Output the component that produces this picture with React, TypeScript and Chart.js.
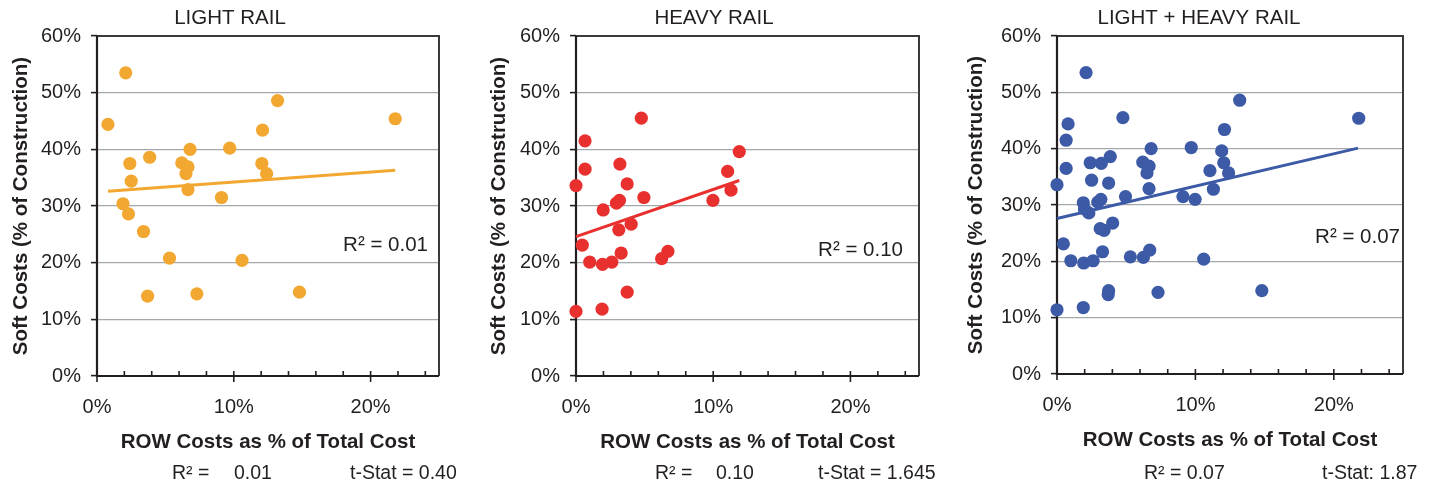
import React, { useEffect, useRef } from 'react';
import { Chart, registerables } from 'chart.js';

Chart.register(...registerables);

// ---------- data ----------
const panelTitles = ['LIGHT RAIL', 'HEAVY RAIL', 'LIGHT + HEAVY RAIL'];

const lightX = [2.1, 0.8, 13.2, 21.8, 12.1, 6.8, 9.7, 3.85, 2.4, 6.2, 6.65, 6.5, 2.5, 12.05, 12.4, 6.65, 9.1, 1.9, 2.3, 3.4, 5.3, 10.6, 3.7, 7.3, 14.8];
const lightY = [53.5, 44.4, 48.6, 45.4, 43.4, 40.0, 40.2, 38.6, 37.5, 37.6, 36.9, 35.7, 34.4, 37.5, 35.7, 32.9, 31.5, 30.4, 28.6, 25.5, 20.8, 20.4, 14.1, 14.5, 14.8];

const heavyX = [4.76, 0.66, 11.9, 0.66, 3.2, 11.05, 0.0, 3.73, 11.3, 2.95, 3.17, 4.95, 9.98, 1.98, 4.02, 3.12, 0.46, 1.0, 1.93, 2.61, 3.29, 6.24, 6.7, 3.73, 0.0, 1.9];
const heavyY = [45.5, 41.5, 39.6, 36.5, 37.4, 36.1, 33.6, 33.9, 32.8, 30.5, 31.0, 31.5, 31.0, 29.3, 26.8, 25.8, 23.1, 20.1, 19.7, 20.1, 21.7, 20.7, 22.0, 14.8, 11.4, 11.8];

// combined panel = light rail projects + heavy rail projects
const combinedX = [...lightX, ...heavyX];
const combinedY = [...lightY, ...heavyY];

// fitted trend lines (end points)
const lightTrendX = [0.8, 21.8];
const lightTrendY = [32.6, 36.3];
const heavyTrendX = [0, 11.9];
const heavyTrendY = [24.6, 34.5];
const combinedTrendX = [0, 21.75];
const combinedTrendY = [27.6, 40.1];

const r2Labels = ['R² = 0.01', 'R² = 0.10', 'R² = 0.07'];
const statTexts = [
  ['R² =', '0.01', 't-Stat = 0.40'],
  ['R² =', '0.10', 't-Stat = 1.645'],
  ['R² = 0.07', 't-Stat: 1.87'],
];

const xTickLabels = ['0%', '10%', '20%'];
const xTitle = 'ROW Costs as % of Total Cost';
const yTitle = 'Soft Costs (% of Construction)';

// ---------- styling / layout ----------
const FONT = "'Liberation Sans', Arial, Helvetica, sans-serif";
const TEXT = '#231f20';
const CANVAS_H = 486;

type Layout = {
  left: number;
  width: number;
  yAxisWidth: number;
  padRight: number;
  xAxisHeight: number;
  xTitlePadBottom: number;
  titleX: number;
  r2X: number;
  r2Y: number;
  statX: number[];
};

const layouts: Layout[] = [
  { left: 0, width: 460, yAxisWidth: 97, padRight: 21, xAxisHeight: 110, xTitlePadBottom: 31, titleX: 230, r2X: 428, r2Y: 245, statX: [172, 234, 350] },
  { left: 478, width: 461, yAxisWidth: 98, padRight: 20, xAxisHeight: 110, xTitlePadBottom: 31, titleX: 714, r2X: 903, r2Y: 250, statX: [655, 716, 818] },
  { left: 955, width: 474, yAxisWidth: 102, padRight: 26, xAxisHeight: 112, xTitlePadBottom: 33, titleX: 1199, r2X: 1400, r2Y: 237, statX: [1144, 1322] },
];

const colors = ['#F2A731', '#E8312F', '#3C5AA6'];

const seriesX = [lightX, heavyX, combinedX];
const seriesY = [lightY, heavyY, combinedY];
const trendXs = [lightTrendX, heavyTrendX, combinedTrendX];
const trendYs = [lightTrendY, heavyTrendY, combinedTrendY];

const toPoints = (xs: number[], ys: number[]) => xs.map((x, i) => ({ x, y: ys[i] }));

const decorPlugin = {
  id: 'decor',
  beforeDatasetsDraw(chart: any) {
    const { ctx, chartArea: a, scales } = chart;
    const xs = scales.x;
    ctx.save();
    // top & right frame
    ctx.strokeStyle = '#3a3a3a';
    ctx.lineWidth = 2;
    ctx.beginPath();
    ctx.moveTo(a.left, a.top);
    ctx.lineTo(a.right, a.top);
    ctx.lineTo(a.right, a.bottom);
    ctx.stroke();
    // axes
    ctx.strokeStyle = TEXT;
    ctx.lineWidth = 2.2;
    ctx.beginPath();
    ctx.moveTo(a.left, a.top);
    ctx.lineTo(a.left, a.bottom);
    ctx.lineTo(a.right, a.bottom);
    ctx.stroke();
    // x tick marks (minor inward, major crossing)
    ctx.lineWidth = 1.6;
    xs.ticks.forEach((t: any) => {
      if (t.value % 2 !== 0) return;
      const px = xs.getPixelForValue(t.value);
      const major = t.value % 10 === 0;
      ctx.beginPath();
      ctx.moveTo(px, a.bottom - 5);
      ctx.lineTo(px, major ? a.bottom + 6 : a.bottom);
      ctx.stroke();
    });
    ctx.restore();
  },
  afterDraw(chart: any, _args: any, opts: any) {
    const { ctx } = chart;
    const L = opts.layout as Layout;
    ctx.save();
    ctx.fillStyle = TEXT;
    // panel title
    ctx.font = `20.5px ${FONT}`;
    ctx.textAlign = 'center';
    ctx.textBaseline = 'middle';
    ctx.fillText(opts.title, L.titleX - L.left, 18);
    // R² annotation in plot
    ctx.textAlign = 'right';
    ctx.fillText(opts.r2, L.r2X - L.left, L.r2Y);
    // stats line below
    ctx.font = `19.5px ${FONT}`;
    ctx.textAlign = 'left';
    (opts.stats as string[]).forEach((s, i) => {
      ctx.fillText(s, L.statX[i] - L.left, 474);
    });
    ctx.restore();
  },
};

function makeConfig(i: number): any {
  const L = layouts[i];
  const color = colors[i];
  return {
    type: 'scatter',
    data: {
      datasets: [
        {
          data: toPoints(trendXs[i], trendYs[i]),
          showLine: true,
          borderColor: color,
          borderWidth: 3,
          pointRadius: 0,
          fill: false,
          clip: false,
          order: 2,
        },
        {
          data: toPoints(seriesX[i], seriesY[i]),
          backgroundColor: color,
          borderWidth: 0,
          pointRadius: 6.6,
          pointHoverRadius: 6.6,
          clip: false,
          order: 1,
        },
      ],
    },
    options: {
      responsive: false,
      animation: false,
      events: [],
      layout: { padding: { top: 36, left: 0, right: L.padRight, bottom: 0 } },
      plugins: {
        legend: { display: false },
        tooltip: { enabled: false },
        title: { display: false },
        decor: { layout: L, title: panelTitles[i], r2: r2Labels[i], stats: statTexts[i] },
      },
      scales: {
        x: {
          type: 'linear',
          min: 0,
          max: 25,
          border: { display: false },
          grid: { display: false, drawTicks: false },
          ticks: {
            stepSize: 2,
            autoSkip: false,
            includeBounds: false,
            maxRotation: 0,
            padding: 19,
            color: TEXT,
            font: { family: FONT, size: 20 },
            callback: (v: number) => (v % 10 === 0 ? xTickLabels[v / 10] ?? '' : ''),
          },
          title: {
            display: true,
            text: xTitle,
            color: TEXT,
            font: { family: FONT, size: 20.5, weight: 'bold' },
            padding: { top: 0, bottom: L.xTitlePadBottom },
          },
          afterFit: (s: any) => {
            s.height = L.xAxisHeight;
          },
        },
        y: {
          type: 'linear',
          min: 0,
          max: 60,
          border: { display: false },
          grid: {
            color: '#a5a8ab',
            lineWidth: 1.2,
            tickColor: TEXT,
            tickLength: 6,
            tickWidth: 1.6,
          },
          ticks: {
            stepSize: 10,
            padding: 10,
            color: TEXT,
            font: { family: FONT, size: 20 },
            callback: (v: number) => `${v}%`,
          },
          title: {
            display: true,
            text: yTitle,
            color: TEXT,
            font: { family: FONT, size: 20.5, weight: 'bold' },
            padding: { top: 9, bottom: 0 },
          },
          afterFit: (s: any) => {
            s.width = L.yAxisWidth;
          },
        },
      },
    },
    plugins: [decorPlugin],
  };
}

function Panel({ index }: { index: number }) {
  const ref = useRef<HTMLCanvasElement>(null);
  const L = layouts[index];
  useEffect(() => {
    if (!ref.current) return;
    const chart = new Chart(ref.current, makeConfig(index));
    return () => chart.destroy();
  }, [index]);
  return (
    <canvas
      ref={ref}
      width={L.width}
      height={CANVAS_H}
      style={{ position: 'absolute', left: L.left, top: 0, width: L.width, height: CANVAS_H }}
    />
  );
}

export default function App() {
  return (
    <div
      style={{
        position: 'absolute',
        left: 0,
        top: 0,
        width: 1429,
        height: CANVAS_H,
        overflow: 'hidden',
        background: '#ffffff',
      }}
    >
      {[0, 1, 2].map((i) => (
        <Panel key={i} index={i} />
      ))}
    </div>
  );
}
